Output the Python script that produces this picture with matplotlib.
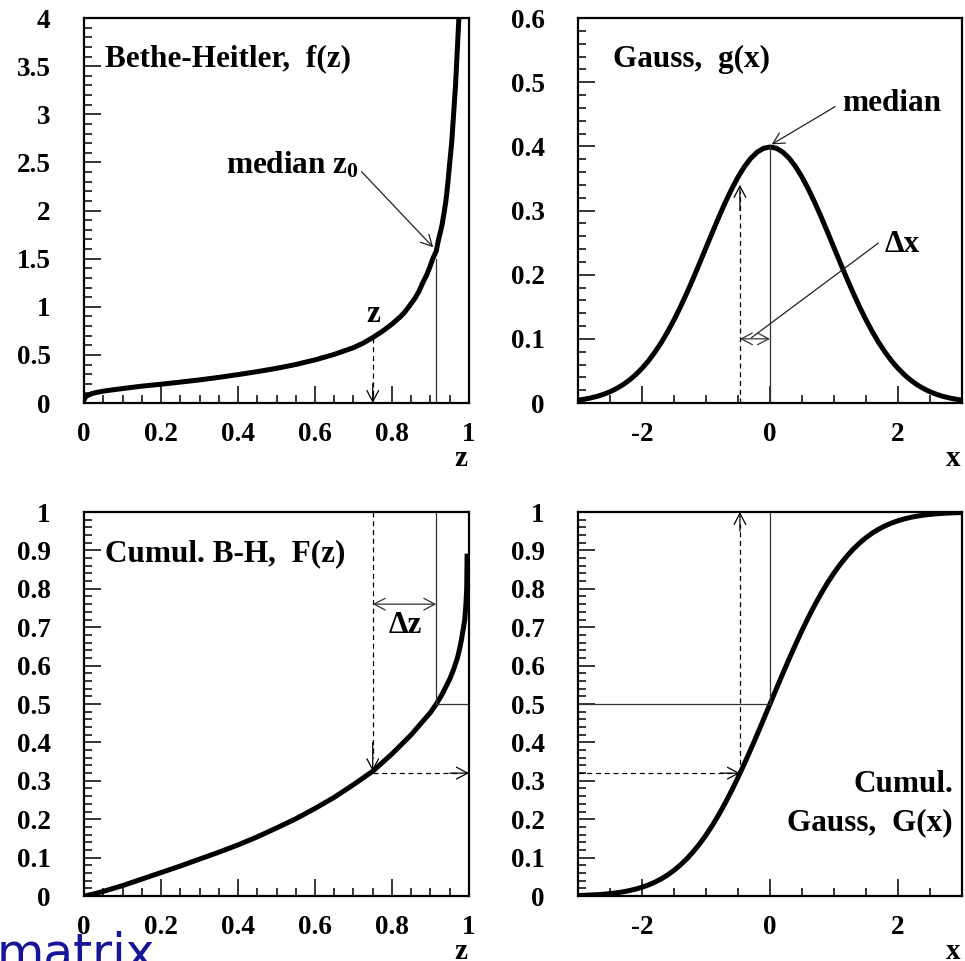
import numpy as np
import matplotlib
matplotlib.use("Agg")
import matplotlib.pyplot as plt
from matplotlib.ticker import MultipleLocator, FormatStrFormatter

# Bethe-Heitler density f(z)
bh_z = [0.0, 0.002, 0.005, 0.01, 0.02, 0.03, 0.05, 0.075, 0.1, 0.15, 0.2, 0.25, 0.3,
        0.35, 0.4, 0.45, 0.5, 0.55, 0.6, 0.65, 0.7, 0.725, 0.75, 0.775, 0.8, 0.81,
        0.82, 0.83, 0.84, 0.86, 0.87, 0.88, 0.89, 0.9, 0.905, 0.915, 0.92, 0.93, 0.935,
        0.94, 0.945, 0.95, 0.955, 0.96, 0.965, 0.97, 0.975]
bh_f = [0.03, 0.05, 0.065, 0.08, 0.097, 0.108, 0.123, 0.137, 0.15, 0.175, 0.195, 0.217,
        0.24, 0.266, 0.295, 0.326, 0.36, 0.4, 0.448, 0.505, 0.575, 0.622, 0.68, 0.745,
        0.82, 0.855, 0.89, 0.93, 0.98, 1.09, 1.16, 1.25, 1.33, 1.43, 1.49, 1.58, 1.68,
        1.85, 1.97, 2.1, 2.28, 2.5, 2.7, 3.0, 3.3, 3.7, 4.1]

# cumulative Bethe-Heitler F(z)
bhc_z = [0.0, 0.02, 0.05, 0.1, 0.15, 0.2, 0.25, 0.3, 0.35, 0.4, 0.45, 0.5, 0.55, 0.6,
         0.65, 0.7, 0.75, 0.8, 0.85, 0.88, 0.9, 0.915, 0.93, 0.94, 0.95, 0.96, 0.97,
         0.976, 0.98, 0.985, 0.989, 0.992, 0.994, 0.995]
bhc_F = [0.0, 0.004, 0.012, 0.027, 0.044, 0.061, 0.078, 0.096, 0.114, 0.133, 0.154,
         0.177, 0.201, 0.228, 0.257, 0.29, 0.325, 0.37, 0.42, 0.455, 0.478, 0.5, 0.525,
         0.545, 0.565, 0.59, 0.62, 0.645, 0.665, 0.695, 0.72, 0.76, 0.8, 0.885]

# Gauss density g(x) and cumulative G(x)
gx = [-3.0, -2.9, -2.8, -2.7, -2.6, -2.5, -2.4, -2.3, -2.2, -2.1, -2.0, -1.9, -1.8,
      -1.7, -1.6, -1.5, -1.4, -1.3, -1.2, -1.1, -1.0, -0.9, -0.8, -0.7, -0.6, -0.5,
      -0.4, -0.3, -0.2, -0.1, 0.0, 0.1, 0.2, 0.3, 0.4, 0.5, 0.6, 0.7, 0.8, 0.9, 1.0,
      1.1, 1.2, 1.3, 1.4, 1.5, 1.6, 1.7, 1.8, 1.9, 2.0, 2.1, 2.2, 2.3, 2.4, 2.5, 2.6,
      2.7, 2.8, 2.9, 3.0]
gauss_g = [0.0044, 0.0060, 0.0079, 0.0104, 0.0136, 0.0175, 0.0224, 0.0283, 0.0355,
           0.0440, 0.0540, 0.0656, 0.0790, 0.0940, 0.1109, 0.1295, 0.1497, 0.1714,
           0.1942, 0.2179, 0.2420, 0.2661, 0.2897, 0.3123, 0.3332, 0.3521, 0.3683,
           0.3814, 0.3910, 0.3970, 0.3989, 0.3970, 0.3910, 0.3814, 0.3683, 0.3521,
           0.3332, 0.3123, 0.2897, 0.2661, 0.2420, 0.2179, 0.1942, 0.1714, 0.1497,
           0.1295, 0.1109, 0.0940, 0.0790, 0.0656, 0.0540, 0.0440, 0.0355, 0.0283,
           0.0224, 0.0175, 0.0136, 0.0104, 0.0079, 0.0060, 0.0044]
gauss_G = [0.0013, 0.0019, 0.0026, 0.0035, 0.0047, 0.0062, 0.0082, 0.0107, 0.0139,
           0.0179, 0.0228, 0.0287, 0.0359, 0.0446, 0.0548, 0.0668, 0.0808, 0.0968,
           0.1151, 0.1357, 0.1587, 0.1841, 0.2119, 0.2420, 0.2743, 0.3085, 0.3446,
           0.3821, 0.4207, 0.4602, 0.5, 0.5398, 0.5793, 0.6179, 0.6554, 0.6915, 0.7257,
           0.7580, 0.7881, 0.8159, 0.8413, 0.8643, 0.8849, 0.9032, 0.9192, 0.9332,
           0.9452, 0.9554, 0.9641, 0.9713, 0.9772, 0.9821, 0.9861, 0.9893, 0.9918,
           0.9938, 0.9953, 0.9965, 0.9974, 0.9981, 0.9987]

z_mark, z_med = 0.75, 0.915
x_mark, x_med = -0.47, 0.0
p_mark = 0.32

plt.rcParams['font.family'] = ['Liberation Serif', 'DejaVu Serif']
plt.rcParams['font.weight'] = 'bold'
plt.rcParams['axes.unicode_minus'] = False
plt.rcParams['mathtext.fontset'] = 'custom'
plt.rcParams['mathtext.rm'] = 'Liberation Serif:bold'
plt.rcParams['mathtext.it'] = 'Liberation Serif:bold'
plt.rcParams['mathtext.bf'] = 'Liberation Serif:bold'
plt.rcParams['mathtext.default'] = 'rm'

LBL = 22.5
THIN = '#333333'

fig = plt.figure(figsize=(9.65, 9.61), dpi=100)
W, H = 965.0, 961.0


def make_ax(left, top, right, bottom):
    return fig.add_axes([left / W, 1 - bottom / H, (right - left) / W, (bottom - top) / H])


def style(ax, xlim, ylim, xmaj, xmin, ymaj, ymin, xname):
    ax.set_xlim(*xlim)
    ax.set_ylim(*ylim)
    ax.xaxis.set_major_locator(MultipleLocator(xmaj))
    ax.xaxis.set_minor_locator(MultipleLocator(xmin))
    ax.yaxis.set_major_locator(MultipleLocator(ymaj))
    ax.yaxis.set_minor_locator(MultipleLocator(ymin))
    ax.xaxis.set_major_formatter(FormatStrFormatter('%g'))
    ax.yaxis.set_major_formatter(FormatStrFormatter('%g'))
    ax.tick_params(which='both', direction='in', top=False, right=False, width=1.1)
    ax.tick_params(which='major', length=12)
    ax.tick_params(which='minor', length=6)
    ax.tick_params(axis='x', which='major', pad=13.5, labelsize=19.5)
    ax.tick_params(axis='y', which='major', pad=24, labelsize=19.5)
    for s in ax.spines.values():
        s.set_linewidth(1.6)
    ax.text(0.995, -0.163, xname, transform=ax.transAxes, ha='right', va='baseline',
            fontsize=21, fontweight='bold')


def arrow(ax, tail, tip, color='black', style_='->'):
    ax.annotate('', xy=tip, xytext=tail,
                arrowprops=dict(arrowstyle=style_ + ',head_length=0.8,head_width=0.42',
                                lw=0.9, color=color, shrinkA=0, shrinkB=0),
                annotation_clip=False)


def dashed(ax, xs, ys):
    ax.plot(xs, ys, color='black', lw=0.9, dashes=(4, 3), clip_on=False)


# ---- top left: Bethe-Heitler ----
ax1 = make_ax(84, 18, 469, 403)
style(ax1, (0, 1), (0, 4), 0.2, 0.05, 0.5, 0.1, 'z')
ax1.plot(bh_z, bh_f, color='black', lw=3.6, solid_joinstyle='round')
dashed(ax1, [z_mark, z_mark], [0.68, 0.05])
arrow(ax1, (z_mark, 0.2), (z_mark, 0.0))
ax1.plot([z_med, z_med], [0, 1.5], color=THIN, lw=0.9)
arrow(ax1, (0.721, 2.403), (0.907, 1.618), color='#222222')
ax1.text(0.0545, 3.494, 'Bethe-Heitler,  f(z)', fontsize=LBL, va='baseline')
ax1.text(0.37, 2.387, r'median $z_0$', fontsize=LBL, va='baseline')
ax1.text(0.751, 0.845, 'z', fontsize=LBL, va='baseline', ha='center')

# ---- top right: Gauss ----
ax2 = make_ax(578, 18, 962, 403)
style(ax2, (-3, 3), (0, 0.6), 2, 0.5, 0.1, 0.02, 'x')
ax2.plot(gx, gauss_g, color='black', lw=3.6, solid_joinstyle='round')
ax2.plot([x_med, x_med], [0, 0.4], color=THIN, lw=0.9)
dashed(ax2, [x_mark, x_mark], [0, 0.33])
arrow(ax2, (x_mark, 0.3), (x_mark, 0.34))
arrow(ax2, (x_mark, 0.1), (x_med, 0.1), color=THIN, style_='<->')
ax2.plot([1.69, -0.287], [0.249, 0.102], color='#222222', lw=0.9)
arrow(ax2, (1.016, 0.4618), (0.026, 0.403), color='#222222')
ax2.text(-2.45, 0.524, 'Gauss,  g(x)', fontsize=LBL, va='baseline')
ax2.text(1.12, 0.455, 'median', fontsize=LBL, va='baseline')
ax2.text(1.797, 0.2348, 'Δx', fontsize=LBL, va='baseline')

# ---- bottom left: cumulative Bethe-Heitler ----
ax3 = make_ax(84, 512, 469, 896)
style(ax3, (0, 1), (0, 1), 0.2, 0.05, 0.1, 0.02, 'z')
ax3.plot(bhc_z, bhc_F, color='black', lw=3.6, solid_joinstyle='round')
dashed(ax3, [z_mark, z_mark], [1.0, 0.36])
arrow(ax3, (z_mark, 0.4), (z_mark, 0.325))
dashed(ax3, [z_mark, 0.97], [p_mark, p_mark])
arrow(ax3, (0.95, p_mark), (1.0, p_mark))
ax3.plot([z_med, z_med], [1.0, 0.5], color=THIN, lw=0.9)
ax3.plot([z_med, 1.0], [0.5, 0.5], color=THIN, lw=0.9)
arrow(ax3, (z_mark, 0.76), (z_med, 0.76), color=THIN, style_='<->')
ax3.text(0.0545, 0.872, 'Cumul. B-H,  F(z)', fontsize=LBL, va='baseline')
ax3.text(0.790, 0.684, 'Δz', fontsize=LBL, va='baseline')

# ---- bottom right: cumulative Gauss ----
ax4 = make_ax(578, 512, 962, 896)
style(ax4, (-3, 3), (0, 1), 2, 0.5, 0.1, 0.02, 'x')
ax4.plot(gx, gauss_G, color='black', lw=3.6, solid_joinstyle='round')
ax4.plot([-3, x_med], [0.5, 0.5], color=THIN, lw=0.9)
ax4.plot([x_med, x_med], [0.5, 1.0], color=THIN, lw=0.9)
dashed(ax4, [-3, x_mark - 0.05], [p_mark, p_mark])
arrow(ax4, (x_mark - 0.3, p_mark), (x_mark, p_mark))
dashed(ax4, [x_mark, x_mark], [p_mark, 0.97])
arrow(ax4, (x_mark, 0.95), (x_mark, 1.0))
ax4.text(2.86, 0.271, 'Cumul.', fontsize=LBL, va='baseline', ha='right')
ax4.text(2.86, 0.172, 'Gauss,  G(x)', fontsize=LBL, va='baseline', ha='right')

fig.text(-0.004, -0.008, 'matrix', color='#16169a', fontsize=35,
         family='DejaVu Sans', fontweight='normal', va='baseline')

fig.savefig('out.png', dpi=100)
